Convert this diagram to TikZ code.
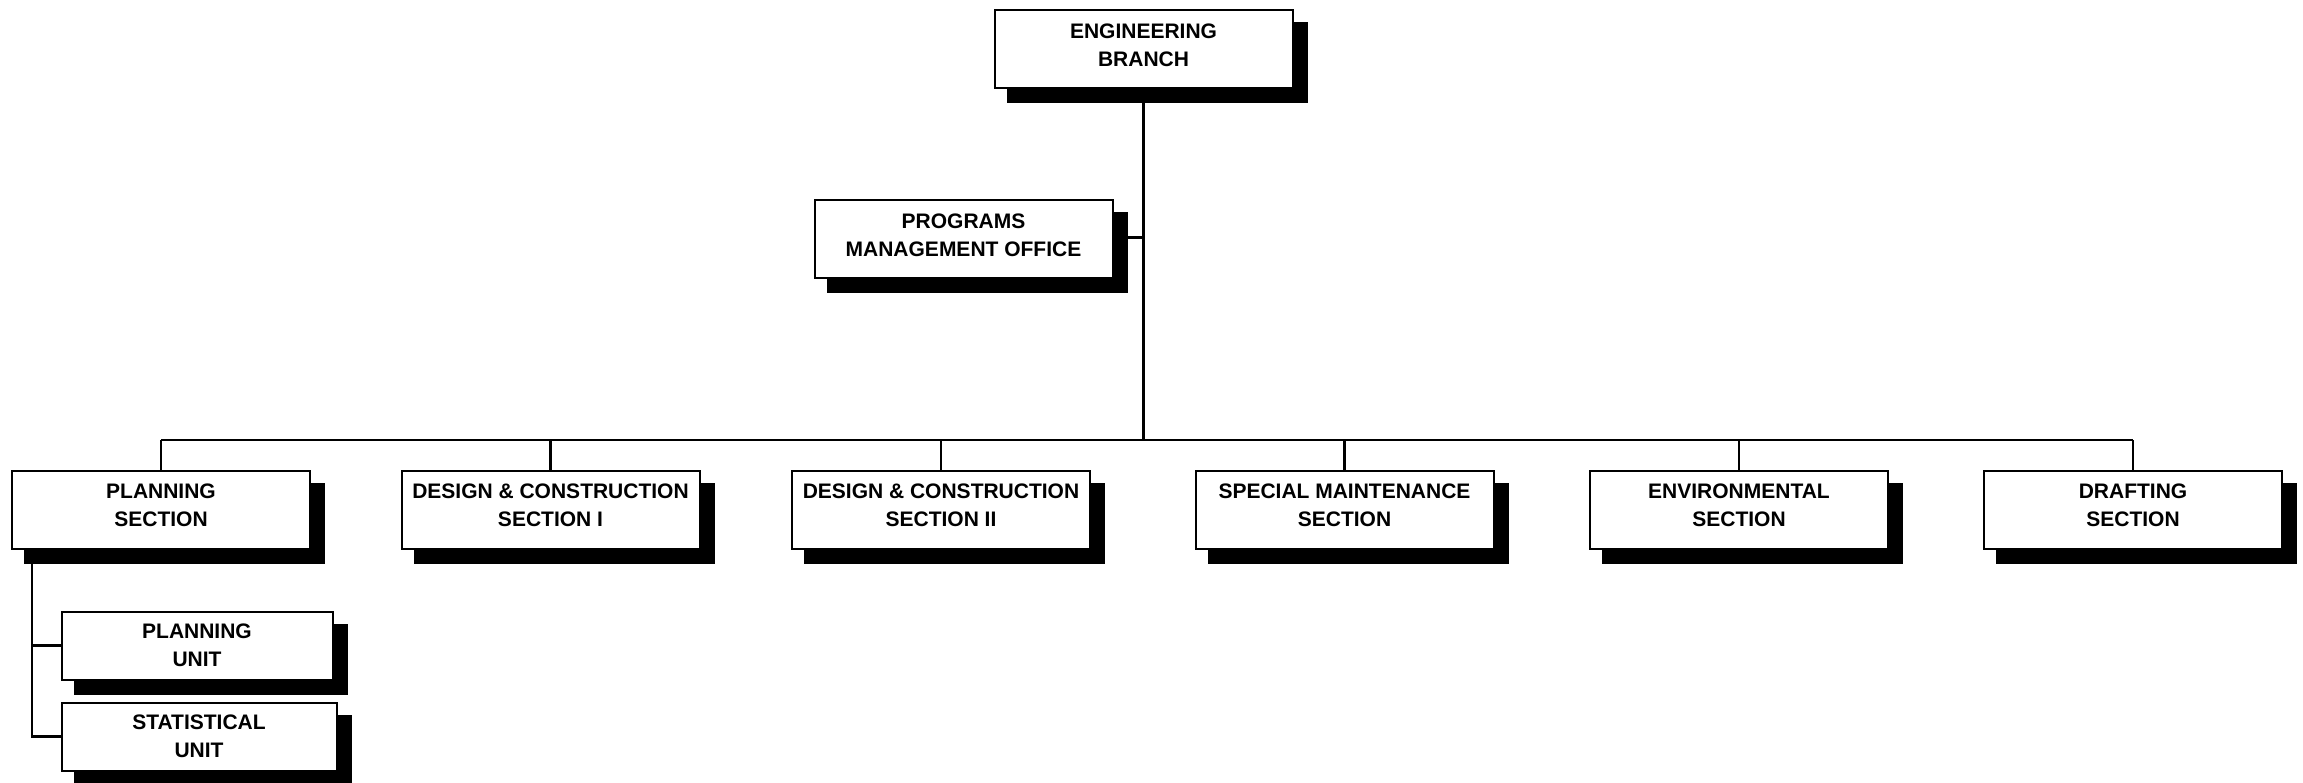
\documentclass[tikz,border=0pt]{standalone}
\usepackage{fontspec}
\setmainfont{Liberation Sans}
\usetikzlibrary{shadows}
\begin{document}
\begin{tikzpicture}[x=1pt,y=-1pt,
  orgbox/.style={draw=black, line width=2pt, fill=white, inner sep=0pt, outer sep=0pt,
    drop shadow={shadow xshift=13.5pt, shadow yshift=-13.5pt, fill=black, draw=black, line width=3pt, opacity=1}},
  secbox/.style={orgbox, minimum width=298pt, minimum height=78pt},
  txt/.style={font=\fontsize{21}{27.7}\selectfont\bfseries, align=center, inner sep=0pt},
  link/.style={line width=2.4pt}]
\useasboundingbox (0,0) rectangle (2303,783);
\fill[white] (0,0) rectangle (2303,783);

% boxes
\node[secbox] (eb) at (1143.5,49.5) {};
\node[txt] (ebt) at ([yshift=4.5pt]eb.center) {ENGINEERING\\BRANCH};

\node[secbox] (pmo) at (963.5,239.5) {};
\node[txt] (pmot) at ([yshift=4.5pt]pmo.center) {PROGRAMS\\MANAGEMENT OFFICE};

\node[secbox] (ps) at (161,509.5) {};
\node[txt] (pst) at ([yshift=4.5pt]ps.center) {PLANNING\\SECTION};
\node[secbox] (d1) at (550.5,509.5) {};
\node[txt] (d1t) at ([yshift=4.5pt]d1.center) {DESIGN \& CONSTRUCTION\\SECTION I};
\node[secbox] (d2) at (941,509.5) {};
\node[txt] (d2t) at ([yshift=4.5pt]d2.center) {DESIGN \& CONSTRUCTION\\SECTION II};
\node[secbox] (sm) at (1344.5,509.5) {};
\node[txt] (smt) at ([yshift=4.5pt]sm.center) {SPECIAL MAINTENANCE\\SECTION};
\node[secbox] (env) at (1739,509.5) {};
\node[txt] (envt) at ([yshift=4.5pt]env.center) {ENVIRONMENTAL\\SECTION};
\node[secbox] (dr) at (2133,509.5) {};
\node[txt] (drt) at ([yshift=4.5pt]dr.center) {DRAFTING\\SECTION};

\node[orgbox, minimum width=271pt, minimum height=68pt] (pu) at (197,645.5) {};
\node[txt] (put) at (pu.center) {PLANNING\\UNIT};
\node[orgbox, minimum width=275pt, minimum height=68pt] (su) at (199,736.5) {};
\node[txt] (sut) at (su.center) {STATISTICAL\\UNIT};

% connectors
\coordinate (busL) at (161,440);
\coordinate (busR) at (2133,440);
\coordinate (busC) at (1143.5,440);
\draw[link] (eb.south) -- (busC);
\draw[link] ([yshift=2pt]pmo.east) -- ([yshift=2pt]pmo.east -| eb.south);
\draw[link] (busL) -- (busR);
\foreach \n in {ps,d1,d2,sm,env,dr}{
  \draw[link] (\n.north) -- (\n.north |- busL);
}
\coordinate (subtop) at ([xshift=20pt]ps.south west);
\draw[link] (subtop) |- (su.west);
\draw[link] (subtop |- pu.west) -- (pu.west);
\end{tikzpicture}
\end{document}
